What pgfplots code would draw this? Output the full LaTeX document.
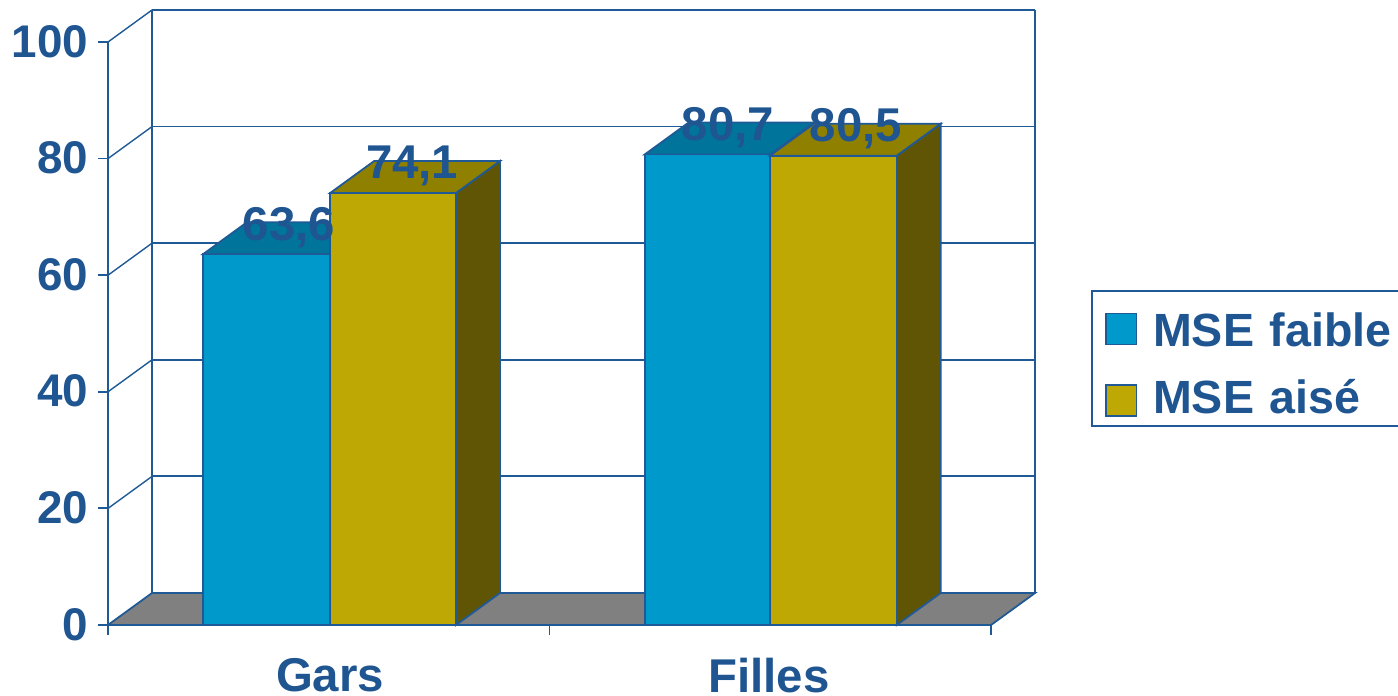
\documentclass[border=0pt]{standalone}
\usepackage{pgfplots}
\pgfplotsset{compat=1.18}
\usepackage{fontspec}
\setmainfont{Liberation Sans}
\definecolor{ln}{HTML}{1F5A96}
\definecolor{txt}{HTML}{1F5591}
\definecolor{bblue}{HTML}{0099CC}
\definecolor{bbluetop}{HTML}{00749B}
\definecolor{bgold}{HTML}{BDA804}
\definecolor{bgoldtop}{HTML}{908000}
\definecolor{bgoldside}{HTML}{5F5505}
\definecolor{floor}{HTML}{808080}
\newcommand{\bigfont}{\fontsize{23.7}{26}\selectfont\bfseries}
\newcommand{\tickfont}{\fontsize{22.9}{26}\selectfont\bfseries}
\newcommand{\legfont}{\fontsize{23.3}{26}\selectfont\bfseries}
\tikzset{lw/.style={line width=0.9pt}}
\begin{document}
\begin{tikzpicture}
\useasboundingbox (-54pt,-35.5pt) rectangle (645pt,312.5pt);
\begin{axis}[
  anchor=origin, at={(0pt,0pt)},
  scale only axis, width=441.5pt, height=291.5pt,
  xmin=0, xmax=2, ymin=0, ymax=100,
  clip=false, axis on top,
  axis x line=bottom, axis y line=left,
  axis line style={ln,line width=0.9pt,-},
  tick style={ln,line width=0.9pt},
  tick align=outside, major tick length=5pt,
  ytick={0,20,40,60,80,100},
  xtick={0,1,2}, xticklabels={,,},
  extra x ticks={0.503,1.497},
  extra x tick labels={Gars,Filles},
  extra x tick style={major tick length=0pt},
  /pgf/number format/assume math mode=true,
  tick label style={text=txt},
  yticklabel style={font=\tickfont,inner sep=0pt,xshift=-4.7pt,yshift=0.3pt},
  xticklabel style={font=\bigfont,inner sep=0pt,yshift=-16.5pt},
  legend cell align=left,
  legend style={at={(axis cs:2.2270,57.4)},anchor=north west,draw=ln,line width=0.9pt,fill=white,
    font=\legfont,text=txt,inner xsep=7pt,inner ysep=6.25pt,row sep=16.5pt,
    nodes={text width=135pt,inner sep=0pt,text depth=0pt}},
  legend image code/.code={\path[draw=none,fill=none] (0pt,-7.7pt) rectangle (23.5pt,7.7pt);\draw[#1,overlay,line width=0.7pt] (0pt,-9.7pt) rectangle (15.3pt,5.7pt);},
]
% floor
\addplot[forget plot,fill=floor,draw=ln,lw] coordinates {(0,0) (0.0997,5.49) (2.0997,5.49) (2,0)} --cycle;
% back wall grid lines
\addplot[forget plot,ln,lw] coordinates {(0.0997,25.49) (2.0997,25.49)};
\addplot[forget plot,ln,lw] coordinates {(0.0997,45.49) (2.0997,45.49)};
\addplot[forget plot,ln,lw] coordinates {(0.0997,65.49) (2.0997,65.49)};
\addplot[forget plot,ln,lw] coordinates {(0.0997,85.49) (2.0997,85.49)};
\addplot[forget plot,ln,lw] coordinates {(0.0997,105.49) (2.0997,105.49)};
\addplot[forget plot,ln,lw] coordinates {(0.0997,5.49) (0.0997,105.49)};
\addplot[forget plot,ln,lw] coordinates {(2.0997,5.49) (2.0997,105.49)};
% side wall lines
\addplot[forget plot,ln,line width=0.7pt] coordinates {(0,20) (0.0997,25.49)};
\addplot[forget plot,ln,line width=0.7pt] coordinates {(0,40) (0.0997,45.49)};
\addplot[forget plot,ln,line width=0.7pt] coordinates {(0,60) (0.0997,65.49)};
\addplot[forget plot,ln,line width=0.7pt] coordinates {(0,80) (0.0997,85.49)};
\addplot[forget plot,ln,line width=0.7pt] coordinates {(0,100) (0.0997,105.49)};
% Gars, MSE faible 63,6
\addplot[forget plot,fill=bbluetop,draw=ln,lw] coordinates {(0.2152,63.6) (0.3149,69.09) (0.6030,69.09) (0.5033,63.6)} --cycle;
\addplot[forget plot,fill=bblue,draw=ln,lw] coordinates {(0.2152,0) (0.2152,63.6) (0.5033,63.6) (0.5033,0)} --cycle;
% Gars, MSE aise 74,1
\addplot[forget plot,fill=bgoldside,draw=ln,lw] coordinates {(0.7882,0) (0.8879,5.49) (0.8879,79.59) (0.7882,74.1)} --cycle;
\addplot[forget plot,fill=bgoldtop,draw=ln,lw] coordinates {(0.5033,74.1) (0.6030,79.59) (0.8879,79.59) (0.7882,74.1)} --cycle;
\addplot[forget plot,fill=bgold,draw=ln,lw] coordinates {(0.5033,0) (0.5033,74.1) (0.7882,74.1) (0.7882,0)} --cycle;
% Filles, MSE faible 80,7
\addplot[forget plot,fill=bbluetop,draw=ln,lw] coordinates {(1.2156,80.7) (1.3153,86.19) (1.5991,86.19) (1.4994,80.7)} --cycle;
\addplot[forget plot,fill=bblue,draw=ln,lw] coordinates {(1.2156,0) (1.2156,80.7) (1.4994,80.7) (1.4994,0)} --cycle;
% Filles, MSE aise 80,5
\addplot[forget plot,fill=bgoldside,draw=ln,lw] coordinates {(1.7865,0) (1.8862,5.49) (1.8862,85.99) (1.7865,80.5)} --cycle;
\addplot[forget plot,fill=bgoldtop,draw=ln,lw] coordinates {(1.4994,80.5) (1.5991,85.99) (1.8862,85.99) (1.7865,80.5)} --cycle;
\addplot[forget plot,fill=bgold,draw=ln,lw] coordinates {(1.4994,0) (1.4994,80.5) (1.7865,80.5) (1.7865,0)} --cycle;
% value labels
\addplot[forget plot,draw=none,mark=none,point meta=explicit symbolic,
  nodes near coords,
  every node near coord/.style={anchor=center,yshift=13.5pt,inner sep=0pt,font=\bigfont,text=txt}]
  coordinates {(0.410,63.6)[63,6] (0.689,74.1)[74,1] (1.404,80.7)[80,7] (1.694,80.5)[80,5]};
\addlegendimage{fill=bblue,draw=ln}
\addlegendentry{\rule{0pt}{21.3pt}MSE faible}
\addlegendimage{fill=bgold,draw=ln}
\addlegendentry{MSE aisé}
\end{axis}
\end{tikzpicture}
\end{document}
